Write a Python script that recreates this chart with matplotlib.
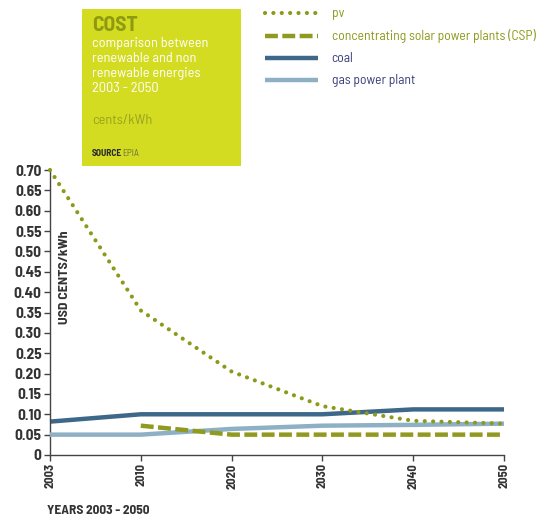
import matplotlib
matplotlib.use("Agg")
import matplotlib.pyplot as plt
from matplotlib.patches import Rectangle

years = ["2003", "2010", "2020", "2030", "2040", "2050"]
pv = [0.70, 0.355, 0.205, 0.12, 0.084, 0.077]
csp_years = ["2010", "2020", "2030", "2040", "2050"]
csp = [0.072, 0.050, 0.050, 0.050, 0.050]
coal = [0.082, 0.100, 0.100, 0.100, 0.112, 0.112]
gas = [0.050, 0.050, 0.064, 0.072, 0.074, 0.077]
yticks = [0, 0.05, 0.10, 0.15, 0.20, 0.25, 0.30, 0.35, 0.40, 0.45, 0.50, 0.55, 0.60, 0.65, 0.70]
ytick_labels = ["0"] + [f"{v:.2f}" for v in yticks[1:]]

FAM = ["Barlow Semi Condensed", "DejaVu Sans"]
plt.rcParams['font.family'] = FAM

C_PV = "#8c9a1b"
C_CSP = "#8f9a1e"
C_COAL = "#3d6889"
C_GAS = "#8eb0c4"
C_TXT = "#333333"

fig = plt.figure(figsize=(5.42, 5.17), dpi=100)
ax = fig.add_axes([50/542, 1-455/517, 454/542, 285/517])

x = list(range(len(years)))
xc = [years.index(y) for y in csp_years]
l_coal, = ax.plot(x, coal, color=C_COAL, lw=3.2, solid_capstyle='butt', clip_on=False, zorder=2, label="coal")
l_gas, = ax.plot(x, gas, color=C_GAS, lw=3.2, solid_capstyle='butt', clip_on=False, zorder=3, label="gas power plant")
l_csp, = ax.plot(xc, csp, color=C_CSP, lw=3.2, linestyle=(0, (2.9, 1.0)), dash_capstyle='butt', clip_on=False, zorder=4,
                 label="concentrating solar power plants (CSP)")
l_pv, = ax.plot(x, pv, color=C_PV, lw=3.0, linestyle=(0, (0.01, 2.0)), dash_capstyle='round', clip_on=False, zorder=5, label="pv")

ax.set_xlim(0, len(years) - 1)
ax.set_ylim(0, 0.70)
ax.set_xticks(x)
ax.set_xticklabels(years, rotation=90, fontsize=9, fontweight='bold', color=C_TXT)
ax.set_yticks(yticks)
ax.set_yticklabels(ytick_labels, fontsize=11, fontweight='bold', color=C_TXT)
for s in ["top", "right"]:
    ax.spines[s].set_visible(False)
for s in ["left", "bottom"]:
    ax.spines[s].set_color("#444444")
    ax.spines[s].set_linewidth(1.0)
ax.tick_params(axis='both', direction='out', length=4, width=1, color="#444444", pad=2)

ax.text(0.031, 0.625, "USD CENTS/kWh", transform=ax.transAxes, rotation=90, ha='center', va='center',
        fontsize=10, fontweight='bold', color=C_TXT)
fig.text(47/542, 1-510/517, "YEARS 2003 - 2050", ha='left', va='center', fontsize=9.6, fontweight='bold', color=C_TXT)

# title box
fig.patches.append(Rectangle((82/542, 1-166/517), 159/542, 157/517, transform=fig.transFigure,
                             facecolor="#d4dc22", edgecolor='none', zorder=0))
fig.text(92/542, 1-25.5/517, "COST", ha='left', va='center', fontsize=15.5, fontweight='bold', color="#8e9a12")
for i, line in enumerate(["comparison between", "renewable and non", "renewable energies", "2003 - 2050"]):
    fig.text(92/542, 1-(44 + 14.7*i)/517, line, ha='left', va='center', fontsize=10.3, color="white")
fig.text(92/542, 1-120/517, "cents/kWh", ha='left', va='center', fontsize=10.3, color="#97a31e")
fig.text(92/542, 1-153/517, "SOURCE", ha='left', va='center', fontsize=6.8, fontweight='bold', color="#2b2b2b")
fig.text(122/542, 1-153/517, "EPIA", ha='left', va='center', fontsize=6.8, color="#6b6f40")

fig.legend(handles=[l_pv, l_csp, l_coal, l_gas], loc='upper left', bbox_to_anchor=(265/542, 1-7.5/517),
           frameon=False, fontsize=9.8, handlelength=3.9, handletextpad=1.0, labelspacing=0.66,
           labelcolor=[C_PV, C_PV, "#3b3f7a", "#3b3f7a"], borderaxespad=0, borderpad=0)

fig.savefig("out.png", dpi=100)
